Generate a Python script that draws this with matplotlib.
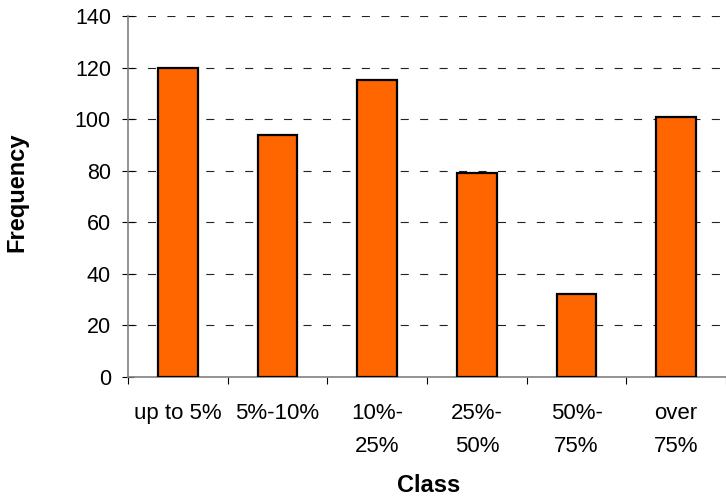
import numpy as np
import matplotlib
matplotlib.use("Agg")
import matplotlib.pyplot as plt

# Frequency table by class
classes = ["up to 5%", "5%-10%", "10%-\n25%", "25%-\n50%", "50%-\n75%", "over\n75%"]
frequency = [120, 94, 115, 79, 32, 101]
y_ticks = [0, 20, 40, 60, 80, 100, 120, 140]

plt.rcParams["font.family"] = ["Liberation Sans", "DejaVu Sans"]
plt.rcParams["lines.scale_dashes"] = False

fig = plt.figure(figsize=(7.26, 4.98), dpi=100)
ax = fig.add_axes([128 / 726, 1 - 377 / 498, 1 - 128 / 726, (377 - 16) / 498])

x = np.arange(len(classes))
ax.bar(x, frequency, width=0.4, color="#FF6600", edgecolor="black",
       linewidth=1.6, zorder=3)

ax.set_xlim(-0.5, len(classes) - 0.5)
ax.set_ylim(0, 140)
ax.set_yticks(y_ticks)

# dashed horizontal gridlines behind the bars
for v in y_ticks[1:]:
    ax.axhline(v, color="#222222", linewidth=0.8, linestyle=(0, (5.8, 8.2)),
               zorder=1)

# category ticks sit on the boundaries between bars
ax.set_xticks(np.arange(len(classes) + 1) - 0.5)
ax.set_xticklabels([])
ax.set_xticks(x, minor=True)
ax.set_xticklabels(classes, minor=True, fontsize=16, linespacing=1.7,
                   va="top")
ax.tick_params(axis="x", which="minor", length=0, pad=19)
ax.tick_params(axis="x", which="major", direction="out", length=5,
               width=0.8, color="black")
ax.tick_params(axis="y", direction="inout", length=8.6, width=0.8,
               color="black", labelsize=15.5, pad=8)

for side in ["top", "right"]:
    ax.spines[side].set_visible(False)
ax.spines["left"].set_color("#808080")
ax.spines["bottom"].set_color("#808080")
ax.spines["left"].set_linewidth(1.2)
ax.spines["bottom"].set_linewidth(1.2)

fig.text(17 / 726, 1 - 192.5 / 498, "Frequency", rotation=90, fontsize=17,
         fontweight="bold", ha="center", va="center")
fig.text(429 / 726, 1 - 485.5 / 498, "Class", fontsize=17,
         fontweight="bold", ha="center", va="center")

fig.savefig("out.png", dpi=100)
